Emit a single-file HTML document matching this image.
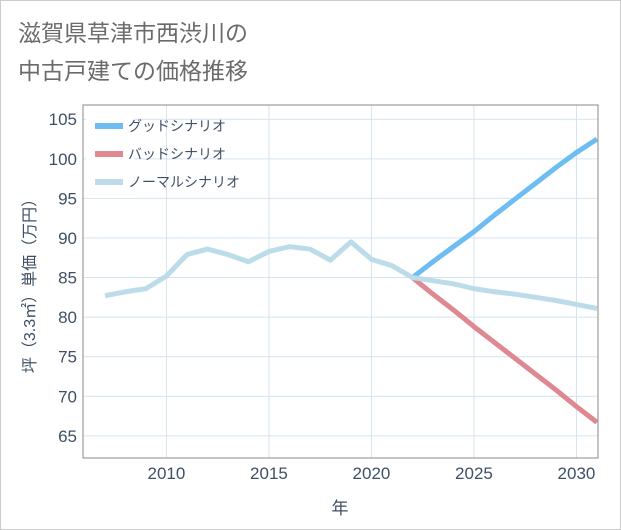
<!DOCTYPE html>
<html><head><meta charset="utf-8"><style>
body{margin:0;background:#fff;}
svg{display:block;font-family:"Liberation Sans","Noto Sans CJK JP",sans-serif;}
</style></head><body>
<svg id="c" width="621" height="530">
<rect x="0.5" y="0.5" width="620" height="529" fill="#fff" stroke="#ccc"/>
<text x="18" y="41" font-size="23" fill="#6b6b6b">滋賀県草津市西渋川の</text>
<text x="18" y="79" font-size="23" fill="#6b6b6b">中古戸建ての価格推移</text>
<g id="grid"></g>
<rect x="83" y="105" width="515" height="353" fill="none" stroke="#888"/>
<g id="series"></g>
<g id="ticks"></g>
<text x="340" y="514" font-size="17" fill="#3f5066" text-anchor="middle">年</text>
<text transform="translate(35,282) rotate(-90)" font-size="16" fill="#3f5066" text-anchor="middle">坪（3.3㎡）単価（万円）</text>
<g>
<rect x="86" y="110" width="48" height="88" fill="#fff"/>
<line x1="95" y1="126" x2="123" y2="126" stroke="#6dbdf2" stroke-width="6"/>
<text x="128" y="131" font-size="14" fill="#3f5066">グッドシナリオ</text>
<line x1="95" y1="154" x2="123" y2="154" stroke="#df8891" stroke-width="6"/>
<text x="128" y="159" font-size="14" fill="#3f5066">バッドシナリオ</text>
<line x1="95" y1="182" x2="123" y2="182" stroke="#bcdcea" stroke-width="6"/>
<text x="128" y="187" font-size="14" fill="#3f5066">ノーマルシナリオ</text>
</g>
</svg>
<script>
const normalYears=[2007,2008,2009,2010,2011,2012,2013,2014,2015,2016,2017,2018,2019,2020,2021,2022,2023,2024,2025,2026,2027,2028,2029,2030,2031];
const normalValues=[82.7,83.2,83.6,85.2,87.9,88.6,87.9,87.0,88.3,88.9,88.6,87.2,89.5,87.3,86.5,85.0,84.6,84.2,83.6,83.2,82.9,82.5,82.1,81.6,81.1];
const forecastYears=[2022,2023,2024,2025,2026,2027,2028,2029,2030,2031];
const goodValues=[85.0,87.0,88.9,90.8,92.9,94.9,96.9,98.9,100.8,102.5];
const badValues=[85.0,82.9,80.9,78.8,76.8,74.8,72.8,70.8,68.7,66.7];
const xTicks=[2010,2015,2020,2025,2030];
const yTicks=[65,70,75,80,85,90,95,100,105];
const NS="http://www.w3.org/2000/svg";
const X0=83,X1=598,XMIN=2005.93,XMAX=2031.05,Y0=458,Y1=105,YMIN=62.2,YMAX=106.8;
const sx=v=>X0+(v-XMIN)/(XMAX-XMIN)*(X1-X0);
const sy=v=>Y0-(v-YMIN)/(YMAX-YMIN)*(Y0-Y1);
const grid=document.getElementById('grid'),ticks=document.getElementById('ticks'),ser=document.getElementById('series');
function mk(t,a,p){const e=document.createElementNS(NS,t);for(const k in a)e.setAttribute(k,a[k]);p.appendChild(e);return e;}
xTicks.forEach(t=>{
 const l=mk('line',{x1:sx(t),x2:sx(t),y1:Y1,y2:Y0,stroke:'#d4e4ef','stroke-width':1},grid);
 
 
 const tx=mk('text',{x:sx(t),y:479,'font-size':17,fill:'#3f5066','text-anchor':'middle'},ticks);
 tx.textContent=t;
 
 
});
yTicks.forEach(t=>{
 const l=mk('line',{x1:X0,x2:X1,y1:sy(t),y2:sy(t),stroke:'#d4e4ef','stroke-width':1},grid);
 
 
 const tx=mk('text',{x:77,y:sy(t)+6,'font-size':17,fill:'#3f5066','text-anchor':'end'},ticks);
 tx.textContent=t;
 
 
});
function line(xs,ys,c,name){
 const p=mk('polyline',{points:xs.map((x,i)=>sx(x)+','+sy(ys[i])).join(' '),fill:'none',stroke:c,'stroke-width':5,'stroke-linejoin':'round'},ser);
 
 
}
line(forecastYears,badValues,'#df8891','bad-scenario-line');
line(forecastYears,goodValues,'#6dbdf2','good-scenario-line');
line(normalYears,normalValues,'#bcdcea','normal-scenario-line');
</script>
</body></html>
